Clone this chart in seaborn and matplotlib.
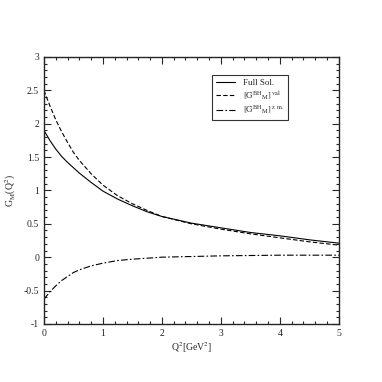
import pandas as pd
import matplotlib.pyplot as plt
import seaborn as sns
from matplotlib.ticker import MultipleLocator

sns.set_style("ticks")
plt.rcParams['font.family'] = ['Liberation Serif', 'DejaVu Serif']
plt.rcParams['mathtext.fontset'] = 'stix'

# Valores
q2 = [0.0, 0.1, 0.2, 0.3, 0.4, 0.5, 0.6, 0.8, 1.0, 1.25, 1.5, 1.75, 2.0, 2.5, 3.0, 3.5, 4.0, 4.5, 5.0]
full_sol = [1.90, 1.75, 1.62, 1.51, 1.42, 1.34, 1.26, 1.12, 0.99, 0.87, 0.77, 0.68, 0.61, 0.51, 0.44, 0.37, 0.32, 0.26, 0.21]
g_val = [2.50, 2.27, 2.06, 1.88, 1.72, 1.57, 1.45, 1.25, 1.08, 0.92, 0.80, 0.70, 0.61, 0.50, 0.42, 0.35, 0.29, 0.23, 0.18]
g_zm = [-0.63, -0.52, -0.43, -0.35, -0.29, -0.23, -0.19, -0.13, -0.09, -0.05, -0.03, -0.015, 0.0, 0.01, 0.02, 0.025, 0.03, 0.03, 0.03]

lab_full = 'Full Sol.'
lab_val = r'$[\mathrm{G}^{\mathrm{BH}}{}_{\mathrm{M}}]^{\mathrm{val}}$'
lab_zm = r'$[\mathrm{G}^{\mathrm{BH}}{}_{\mathrm{M}}]^{\mathrm{z.m.}}$'

df = pd.concat([
    pd.DataFrame({'q2': q2, 'g': full_sol, 'serie': lab_full}),
    pd.DataFrame({'q2': q2, 'g': g_val, 'serie': lab_val}),
    pd.DataFrame({'q2': q2, 'g': g_zm, 'serie': lab_zm}),
], ignore_index=True)

fig = plt.figure(figsize=(3.82, 3.82), dpi=100)
ax = fig.add_axes([0.115, 0.152, 0.772, 0.699])

sns.lineplot(data=df, x='q2', y='g', style='serie', color='black', linewidth=0.8,
             dashes={lab_full: '', lab_val: (4, 2), lab_zm: (6, 2, 1.5, 2)}, ax=ax)

ax.set_xlim(0, 5)
ax.set_ylim(-1, 3)
ax.xaxis.set_major_locator(MultipleLocator(1))
ax.xaxis.set_minor_locator(MultipleLocator(0.2))
ax.yaxis.set_major_locator(MultipleLocator(0.5))
ax.yaxis.set_minor_locator(MultipleLocator(0.1))
ax.tick_params(which='both', direction='in', top=True, right=True, labelsize=7, width=0.8)
ax.tick_params(which='major', length=5)
ax.tick_params(which='minor', length=2.5)
ax.set_yticks([-1, -0.5, 0, 0.5, 1, 1.5, 2, 2.5, 3])
ax.set_yticklabels(['-1', '-0.5', '0', '0.5', '1', '1.5', '2', '2.5', '3'])
for s in ax.spines.values():
    s.set_linewidth(1.0)

ax.set_xlabel(r'Q$^2$[GeV$^2$]', fontsize=7, labelpad=2)
ax.set_ylabel(r'G$_\mathrm{M}$(Q$^2$)', fontsize=7, labelpad=4)

leg = ax.legend(loc='upper left', bbox_to_anchor=(0.57, 0.933), borderaxespad=0,
                fontsize=6.5, frameon=True, fancybox=False, edgecolor='black',
                handlelength=2.2, borderpad=0.4, labelspacing=0.2)
leg.get_frame().set_linewidth(0.8)

fig.savefig('out.png', dpi=100)
